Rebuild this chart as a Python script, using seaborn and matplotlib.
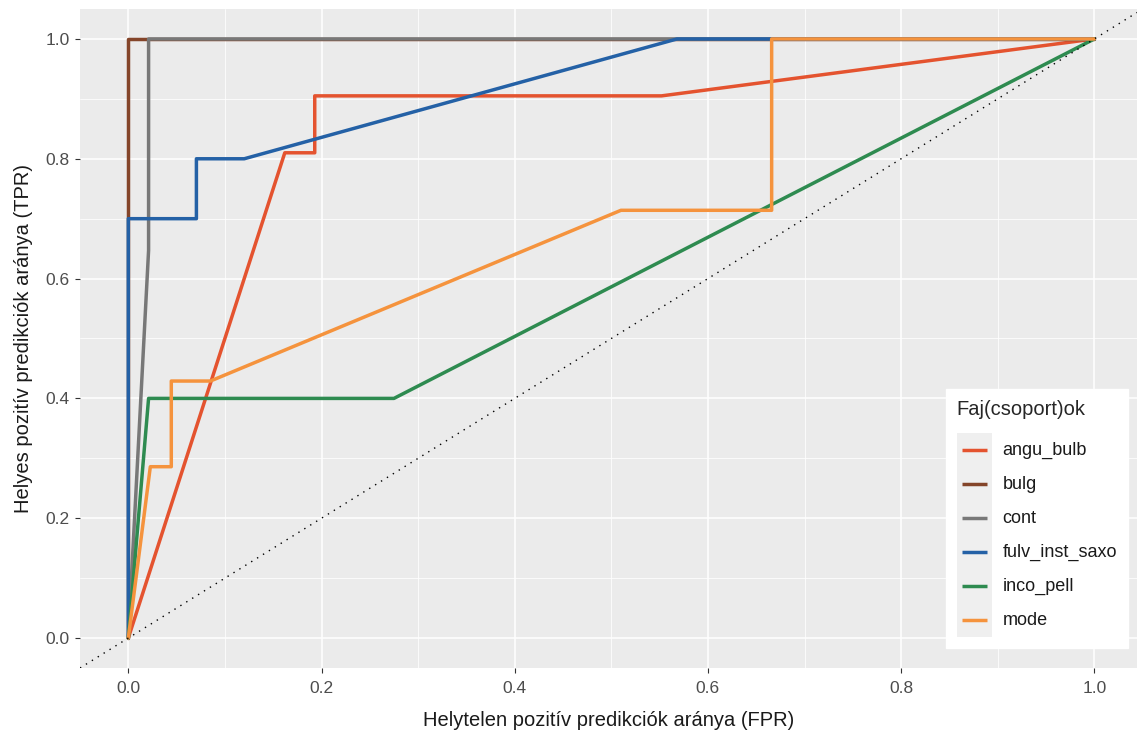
import matplotlib
matplotlib.use("Agg")
import matplotlib.pyplot as plt
import seaborn as sns
import pandas as pd
from matplotlib.lines import Line2D
from matplotlib.patches import Rectangle
from matplotlib.legend_handler import HandlerBase

# ROC curves
groups = ["angu_bulb", "bulg", "cont", "fulv_inst_saxo", "inco_pell", "mode"]
fpr = {
    "angu_bulb": [0, 0.162, 0.193, 0.193, 0.552, 1],
    "bulg": [0, 0, 1],
    "cont": [0, 0.021, 0.021, 1],
    "fulv_inst_saxo": [0, 0, 0.0705, 0.0705, 0.12, 0.568, 1],
    "inco_pell": [0, 0.021, 0.275, 1],
    "mode": [0, 0.0228, 0.0445, 0.0445, 0.085, 0.51, 0.666, 0.666, 1],
}
tpr = {
    "angu_bulb": [0, 0.810, 0.810, 0.905, 0.905, 1],
    "bulg": [0, 1, 1],
    "cont": [0, 0.647, 1, 1],
    "fulv_inst_saxo": [0, 0.7, 0.7, 0.8, 0.8, 1, 1],
    "inco_pell": [0, 0.4, 0.4, 1],
    "mode": [0, 0.286, 0.286, 0.429, 0.429, 0.714, 0.714, 1, 1],
}
colors = ["#E4532F", "#84452A", "#787878", "#2461A6", "#2E8B50", "#F5933D"]
ticks = [0.0, 0.2, 0.4, 0.6, 0.8, 1.0]
tick_labels = ["0.0", "0.2", "0.4", "0.6", "0.8", "1.0"]

rows = []
for g in groups:
    for x, y in zip(fpr[g], tpr[g]):
        rows.append({"csoport": g, "fpr": x, "tpr": y})
df = pd.DataFrame(rows)


class KeyHandler(HandlerBase):
    # ggplot-style key: grey box with a short line in the middle
    def create_artists(self, legend, orig_handle, xdescent, ydescent,
                       width, height, fontsize, trans):
        box = Rectangle((-xdescent, -ydescent), width, height,
                        facecolor="#EFEFEF", edgecolor="none", transform=trans)
        yc = -ydescent + height / 2
        ln = Line2D([-xdescent + 0.14 * width, -xdescent + 0.86 * width], [yc, yc],
                    color=orig_handle.get_color(), linewidth=orig_handle.get_linewidth(),
                    solid_capstyle="butt", transform=trans)
        return [box, ln]


sns.set_theme(style="darkgrid")
plt.rcParams["font.family"] = ["Liberation Sans", "DejaVu Sans"]

W, H = 1137, 738
fig = plt.figure(figsize=(W / 100, H / 100), dpi=100)
ax = fig.add_axes([80 / W, (H - 668) / H, (W - 80) / W, 659 / H])
ax.set_facecolor("#EBEBEB")

sns.lineplot(data=df, x="fpr", y="tpr", hue="csoport", hue_order=groups,
             palette=colors, sort=False, estimator=None, units="csoport",
             linewidth=2.5, ax=ax, legend=False, zorder=3)
ax.axline((0, 0), slope=1, color="black", linestyle=(0, (1, 4)), linewidth=1, zorder=4)

ax.set_xlim(-0.05, -0.05 + (W - 80) / 966)
ax.set_ylim(-0.05, 1.05)
ax.set_xticks(ticks)
ax.set_xticklabels(tick_labels)
ax.set_yticks(ticks)
ax.set_yticklabels(tick_labels)
ax.set_xticks([0.1, 0.3, 0.5, 0.7, 0.9], minor=True)
ax.set_yticks([0.1, 0.3, 0.5, 0.7, 0.9], minor=True)
ax.grid(which="major", color="white", linewidth=1.1)
ax.grid(which="minor", color="white", linewidth=0.55)
ax.tick_params(which="major", length=3.5, width=0.8, color="#333333",
               labelcolor="#4D4D4D", labelsize=12.5, pad=4, bottom=True, left=True)
ax.tick_params(axis="x", which="major", pad=6)
ax.tick_params(which="minor", length=0)
for s in ax.spines.values():
    s.set_visible(False)

ax.set_xlabel("Helytelen pozitív predikciók aránya (FPR)", fontsize=14.5, color="#1A1A1A", labelpad=11)
ax.set_ylabel("Helyes pozitív predikciók aránya (TPR)", fontsize=14.5, color="#1A1A1A", labelpad=9)

handles = [Line2D([], [], color=c, linewidth=2.5) for c in colors]
leg = ax.legend(handles, groups, title="Faj(csoport)ok", loc="upper left",
                bbox_to_anchor=(946 / W, 1 - 389 / H), bbox_transform=fig.transFigure,
                handler_map={Line2D: KeyHandler()},
                handlelength=1.94, handleheight=2.52, labelspacing=0, handletextpad=0.6,
                borderpad=0.6, borderaxespad=0, fontsize=13, title_fontsize=14.5,
                frameon=True, fancybox=False, alignment="left")
leg._legend_box.sep = 10  # gap between title and keys
leg.get_frame().set_facecolor("white")
leg.get_frame().set_edgecolor("white")
leg.get_frame().set_alpha(1)
for t in leg.get_texts():
    t.set_color("#1A1A1A")
leg.set_zorder(10)

fig.savefig("out.png", dpi=100)
